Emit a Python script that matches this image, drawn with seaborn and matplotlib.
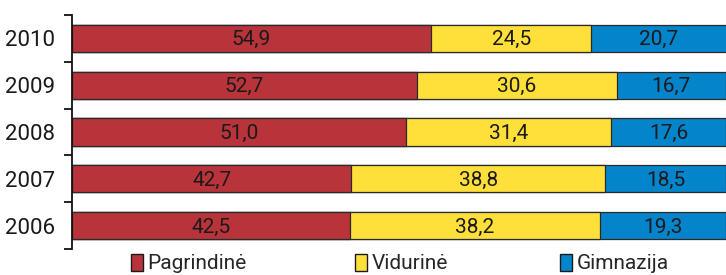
import matplotlib
matplotlib.use("Agg")
import matplotlib.pyplot as plt
import seaborn as sns
import pandas as pd
import numpy as np
from matplotlib.patches import Patch
from matplotlib.ticker import FixedLocator

years = ["2010", "2009", "2008", "2007", "2006"]
pagrindine = [54.9, 52.7, 51.0, 42.7, 42.5]
viduryne = [24.5, 30.6, 31.4, 38.8, 38.2]
gimnazija = [20.7, 16.7, 17.6, 18.5, 19.3]
series_names = ["Pagrindinė", "Vidurinė", "Gimnazija"]
colors = ["#B8343A", "#FFDF3A", "#0484CB"]

sns.set_theme(style="white")
plt.rcParams["font.family"] = ["Roboto", "DejaVu Sans"]

df = pd.DataFrame({"year": years, "p": pagrindine, "v": viduryne, "g": gimnazija})
df["c1"] = df["p"]
df["c2"] = df["p"] + df["v"]
df["c3"] = df["p"] + df["v"] + df["g"]

fig = plt.figure(figsize=(7.26, 2.75), dpi=100)
ax = fig.add_axes([72 / 726, 1 - 249 / 275, 1 - 72 / 726, 234 / 275])

bw = 0.58
for col, c in zip(["c3", "c2", "c1"], colors[::-1]):
    sns.barplot(data=df, y="year", x=col, order=years, color=c, orient="h",
                width=bw, edgecolor="#2a2a2a", linewidth=0.9, ax=ax, saturation=1)

for i in range(len(years)):
    starts = [0, pagrindine[i], pagrindine[i] + viduryne[i]]
    vals = [pagrindine[i], viduryne[i], gimnazija[i]]
    for s, v in zip(starts, vals):
        ax.text(s + v / 2, i + 0.03, f"{v:.1f}".replace(".", ","), ha="center", va="center",
                fontsize=15, color="#1a1a1a")

ax.set_xlim(0, 100)
ax.set_ylim(4.5, -0.5)
ax.set_xlabel("")
ax.set_ylabel("")
ax.set_xticks([])
for s in ["top", "right", "bottom"]:
    ax.spines[s].set_visible(False)
ax.spines["left"].set_color("#111111")
ax.spines["left"].set_linewidth(1.3)
ax.tick_params(axis="y", which="major", length=0, labelsize=16, pad=12, labelcolor="#1a1a1a")
ax.yaxis.set_minor_locator(FixedLocator(np.arange(-0.5, 5, 1)))
ax.tick_params(axis="y", which="minor", length=6, width=1.3, color="#111111", direction="out", left=True)

marker_x = [131, 355, 560]
for name, c, mx in zip(series_names, colors, marker_x):
    h = Patch(facecolor=c, edgecolor="#1a1a1a", linewidth=1.0)
    fig.legend([h], [name], loc="center left", bbox_to_anchor=(mx / 726, 1 - 263.5 / 275),
               frameon=False, fontsize=15, handlelength=0.58, handleheight=0.9,
               handletextpad=0.2, borderaxespad=0, borderpad=0)

fig.savefig("out.png", dpi=100)
